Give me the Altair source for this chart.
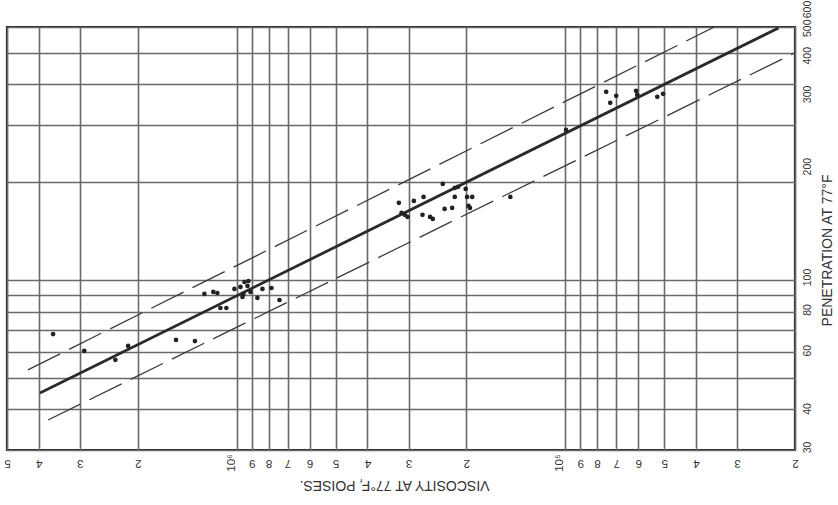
import altair as alt
import pandas as pd

# ---- data ----
viscosity = [3.62e6, 2.91e6, 2.34e6, 2.14e6, 1.53e6, 1.34e6,
             1.254e6, 1.178e6, 1.145e6, 1.121e6, 1.075e6, 1.016e6, 9.74e5, 9.47e5, 9.21e5,
             9.27e5, 9.08e5, 9.60e5, 9.54e5, 8.65e5, 8.35e5, 7.84e5, 7.41e5,
             3.21e5, 3.15e5, 3.08e5, 3.02e5, 2.89e5, 2.70e5, 2.72e5, 2.58e5, 2.53e5, 2.36e5,
             2.33e5, 2.21e5, 2.17e5, 2.12e5, 2.17e5, 2.01e5, 1.99e5, 1.92e5, 1.97e5, 1.95e5, 1.47e5,
             9.95e4, 7.51e4, 7.00e4, 7.30e4, 6.09e4, 6.04e4, 5.25e4, 5.04e4]
penetration = [68.2, 60.5, 56.8, 62.7, 65.4, 64.9,
               90.6, 91.9, 91.2, 82.0, 82.0, 93.9, 95.2, 98.6, 99.3,
               95.9, 91.9, 88.7, 90.6, 88.1, 93.9, 94.5, 86.8,
               172.7, 160.8, 158.6, 156.3, 175.1, 180.1, 158.6, 156.3, 154.1, 197.5,
               165.4, 166.6, 192.0, 193.4, 180.1, 190.6, 180.1, 180.1, 169.0, 166.6, 180.1,
               289.5, 379.0, 368.4, 350.6, 381.7, 371.0, 365.9, 373.7]

main_vis = [3.97e6, 2.245e4]
main_pen = [44.9, 596]
upper_vis = [4.32e6, 3.52e4]
upper_pen = [52.9, 600]
lower_vis = [3.75e6, 2.0e4]
lower_pen = [37.1, 500]

x_tick_values = [5e6, 4e6, 3e6, 2e6, 1e6, 9e5, 8e5, 7e5, 6e5, 5e5, 4e5, 3e5, 2e5,
                 1e5, 9e4, 8e4, 7e4, 6e4, 5e4, 4e4, 3e4, 2e4]
x_tick_labels = ["5", "4", "3", "2", "", "9", "8", "7", "6", "5", "4", "3", "2",
                 "", "9", "8", "7", "6", "5", "4", "3", "2"]
power_vis = [1e6, 1e5]
power_labels = ["10⁶", "10⁵"]
y_tick_values = [30, 40, 50, 60, 70, 80, 90, 100, 200, 300, 400, 500, 600]
y_tick_labels = ["30", "40", "", "60", "", "80", "", "100", "200", "300", "400", "500", "600"]
y_label_shift = [-3, -1, 0, -2, 0, -2, 0, -3, -16, -31, -29, -25, -18]

FONT = "Liberation Sans"

def label_expr(values, labels):
    expr = "''"
    for v, l in zip(values, labels):
        expr = f"abs(datum.value - {v}) < {v} * 0.001 ? '{l}' : ({expr})"
    return expr

pts = pd.DataFrame({"vis": viscosity, "pen": penetration})
lines = pd.DataFrame({
    "vis": main_vis + upper_vis + lower_vis,
    "pen": main_pen + upper_pen + lower_pen,
    "series": ["main"] * 2 + ["upper"] * 2 + ["lower"] * 2,
})
powers = pd.DataFrame({"vis": power_vis, "label": power_labels})

xscale = alt.Scale(type="log", domain=[2e4, 5e6], reverse=True, nice=False)
yscale = alt.Scale(type="log", domain=[30, 600], nice=False)

xaxis = alt.Axis(
    values=x_tick_values,
    labelExpr=label_expr(x_tick_values, x_tick_labels),
    labelAngle=180, labelAlign="center", labelBaseline="middle",
    labelPadding=12, labelFlush=False, labelOverlap=False, labelBound=False,
    labelFont=FONT, labelFontSize=11.5, labelColor="#333",
    ticks=False, tickSize=0, domain=False,
    grid=True, gridColor="#6a6a6a", gridWidth=1.6,
    title="VISCOSITY AT 77°F, POISES.", titleFont=FONT, titleFontSize=14,
    titleFontWeight="normal", titleColor="#333",
    titleAngle=180, titleAlign="center", titleBaseline="middle",
    titleX=387, titleY=34,
)
y_offset_cond = {
    "condition": [{"test": f"abs(datum.value - {v}) < {v} * 0.001", "value": s}
                  for v, s in zip(y_tick_values, y_label_shift) if s != 0],
    "value": 0,
}
yaxis = alt.Axis(
    orient="right",
    values=y_tick_values,
    labelExpr=label_expr(y_tick_values, y_tick_labels),
    labelAngle=270, labelAlign="center", labelBaseline="middle",
    labelPadding=12, labelFlush=False, labelOverlap=False, labelBound=False,
    labelOffset=y_offset_cond,
    labelFont=FONT, labelFontSize=10.5, labelColor="#333",
    ticks=False, tickSize=0, domain=False,
    grid=True, gridColor="#6a6a6a", gridWidth=1.6,
    title="PENETRATION AT 77°F", titleFont=FONT, titleFontSize=14,
    titleFontWeight="normal", titleColor="#333",
    titleAngle=270, titleAlign="center", titleBaseline="middle",
    titleX=32, titleY=223,
)

points = alt.Chart(pts).mark_circle(size=22, color="#222", opacity=1).encode(
    x=alt.X("vis:Q", scale=xscale, axis=xaxis),
    y=alt.Y("pen:Q", scale=yscale, axis=yaxis),
)

main_line = alt.Chart(lines).transform_filter("datum.series == 'main'").mark_line(
    color="#2a2a2a", strokeWidth=2.8, clip=True
).encode(x=alt.X("vis:Q", scale=xscale), y=alt.Y("pen:Q", scale=yscale))

dashed = alt.Chart(lines).transform_filter("datum.series != 'main'").mark_line(
    color="#3a3a3a", strokeWidth=1.3, strokeDash=[36, 10], clip=True
).encode(x=alt.X("vis:Q", scale=xscale), y=alt.Y("pen:Q", scale=yscale),
         detail="series:N")

power_text = alt.Chart(powers).mark_text(
    angle=270, align="center", baseline="middle", font=FONT, fontSize=11.5,
    color="#333", dx=0, dy=-5
).encode(x=alt.X("vis:Q", scale=xscale), y=alt.value(436), text="label:N")

chart = alt.layer(dashed, main_line, points, power_text).properties(
    width=788, height=423,
    autosize=alt.AutoSizeParams(type="none"),
    padding={"left": 7, "top": 27, "right": 43, "bottom": 55},
    background="white",
).configure_view(stroke="#222", strokeWidth=2.2)

chart.save("out.html", embed_options={"renderer": "svg", "actions": False})
